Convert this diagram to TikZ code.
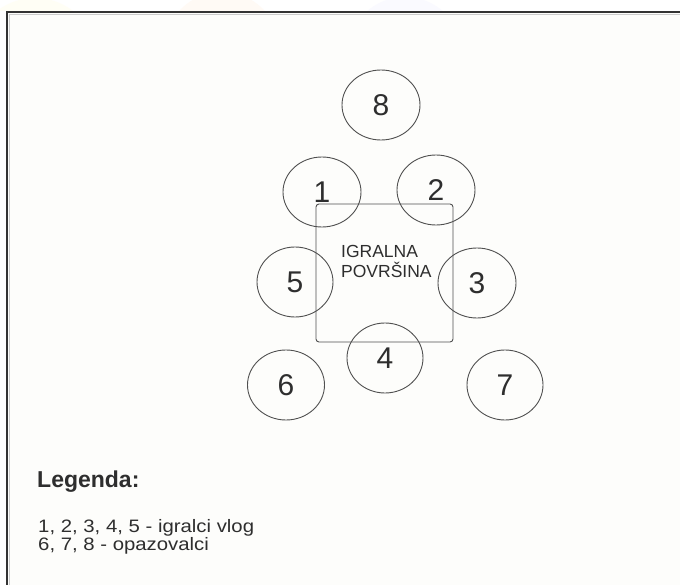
\documentclass[tikz,border=0pt]{standalone}
\usepackage{fontspec}
\setmainfont{Liberation Sans}
\usetikzlibrary{shapes.geometric}
\definecolor{paper}{HTML}{FDFDFB}
\definecolor{ink}{HTML}{2E2E2E}
\definecolor{lineg}{HTML}{505050}
\begin{document}
\begin{tikzpicture}[x=1pt,y=-1pt,
  seat/.style={draw=lineg, line width=0.9pt, shape=ellipse, minimum width=78pt, minimum height=70pt, inner sep=0pt, text=ink, font=\fontsize{30}{34}\selectfont},
  area/.style={draw=lineg, line width=0.9pt, rounded corners=3pt, minimum width=137pt, minimum height=138pt, inner sep=0pt},
  arealabel/.style={text=ink, font=\fontsize{17.5}{20}\selectfont, inner sep=0pt, anchor=base west},
  legtitle/.style={text=ink, font=\fontsize{23}{26}\selectfont\bfseries, inner sep=0pt, anchor=base west},
  legline/.style={text=ink, font=\fontsize{18}{20}\selectfont, inner sep=0pt, anchor=base west}]
\useasboundingbox (0,0) rectangle (680,585);
\fill[white] (0,0) rectangle (680,585);
% faint watermark above the frame
\begin{scope}
\clip (0,0) rectangle (680,11);
\fill[yellow!4] (35,60) circle (62);
\fill[orange!4] (222,50) circle (58);
\fill[blue!2] (405,55) circle (58);
\end{scope}
% frame
\fill[paper] (7,12) rectangle (680,585);
\draw[black!20, line width=1.5pt] (9.5,585) -- (9.5,14.5) -- (680,14.5);
\draw[black!80, line width=2pt] (7,585) -- (7,12) -- (680,12);
% playing area
\node[area] (area) at (384.5,273) {};
\node[arealabel] (lab1) at (341,258) {IGRALNA};
\node[arealabel] (lab2) at (341,278) {POVRŠINA};
% seats
\node[seat] (s8) at (381,105) {8};
\node[seat] (s1) at (322,192) {1};
\node[seat] (s2) at (436,190) {2};
\node[seat, minimum width=76pt] (s5) at (295,282) {5};
\node[seat] (s3) at (477,283) {3};
\node[seat, minimum width=76pt] (s4) at (385,358) {4};
\node[seat, minimum width=77pt] (s6) at (286,385) {6};
\node[seat, minimum width=76pt] (s7) at (505,385) {7};
% legend
\node[legtitle] (leg) at (37,487) {Legenda:};
\node[legline] (l1) at (38,532.5) {\scalebox{1.13}[1]{1, 2, 3, 4, 5 - igralci vlog}};
\node[legline] (l2) at (38,550.5) {\scalebox{1.13}[1]{6, 7, 8 - opazovalci}};
\end{tikzpicture}
\end{document}
